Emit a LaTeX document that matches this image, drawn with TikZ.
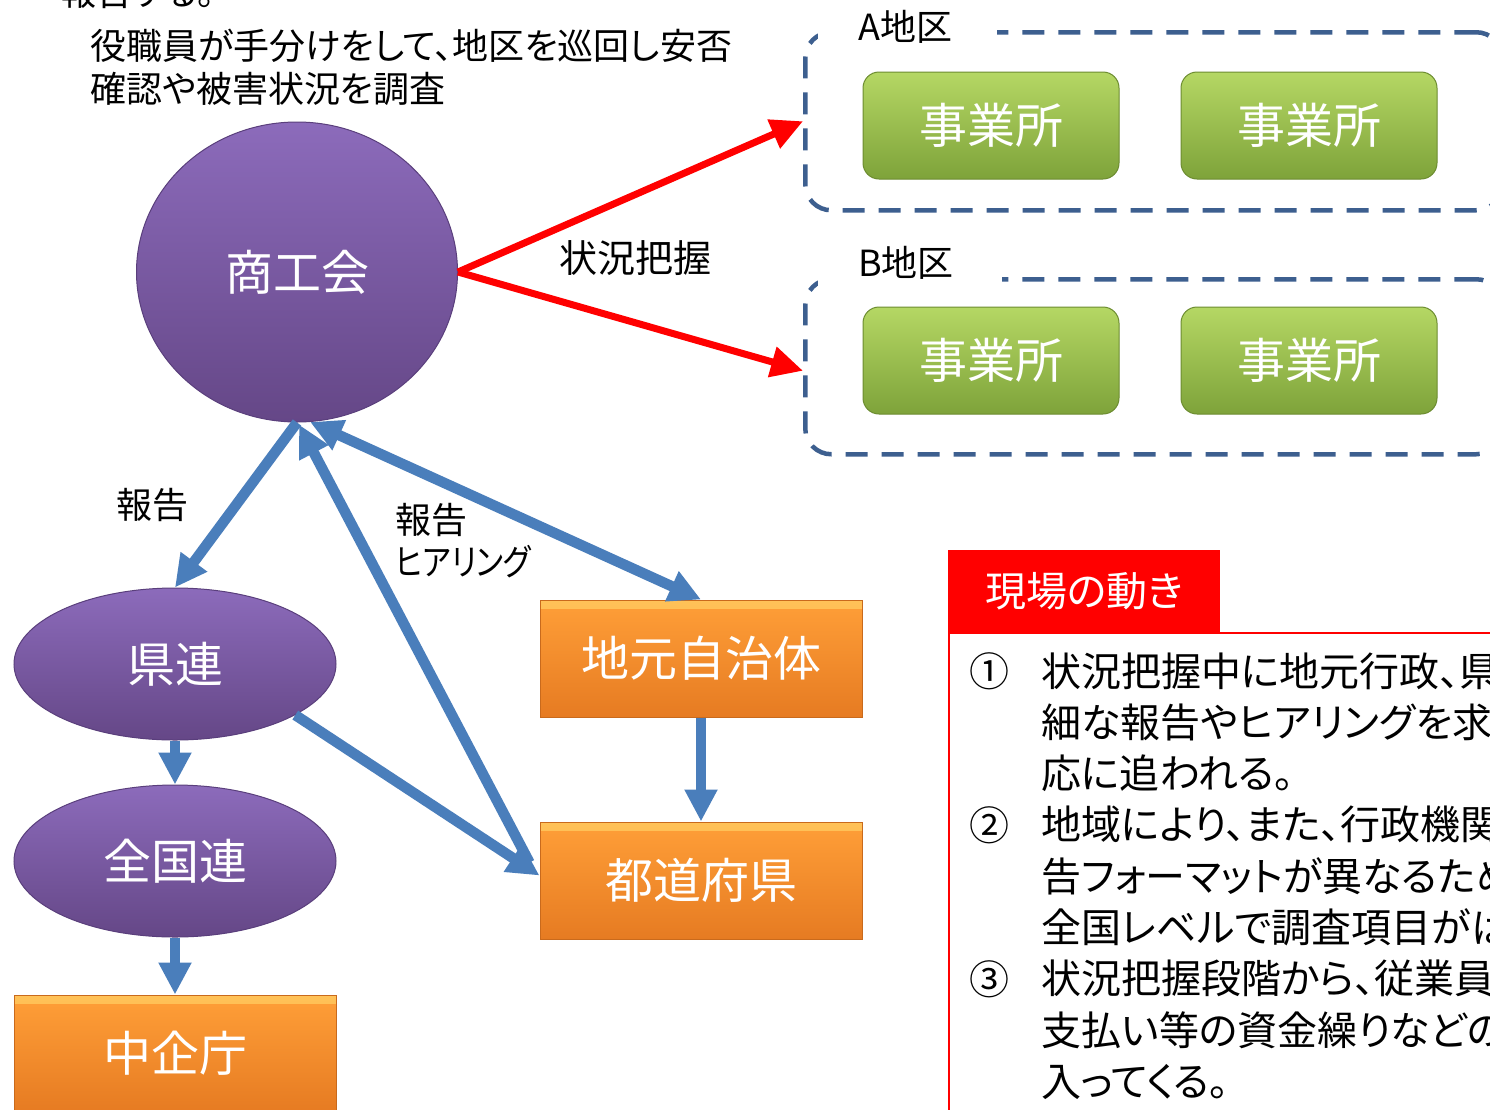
\documentclass[tikz,border=0pt]{standalone}
\usepackage{fontspec}
\setmainfont{Noto Sans CJK JP}[RawFeature=+palt]
\usetikzlibrary{arrows.meta,shapes.geometric,calc}
\definecolor{arrowblue}{HTML}{4A7EBB}
\definecolor{purptop}{HTML}{8C6BBB}
\definecolor{purpbot}{HTML}{654787}
\definecolor{purpedge}{HTML}{5A3F7C}
\definecolor{orngtop}{HTML}{FF9F38}
\definecolor{orngbot}{HTML}{E67B22}
\definecolor{orngedge}{HTML}{C96A1C}
\definecolor{ornghi}{HTML}{FFC258}
\definecolor{grntop}{HTML}{B5D764}
\definecolor{grnbot}{HTML}{7EA33A}
\definecolor{grnedge}{HTML}{6C8C30}
\definecolor{dashblue}{HTML}{3D5F8F}
\begin{document}
\begin{tikzpicture}[x=1pt,y=-1pt,
  lbl/.style={font=\fontsize{36}{44}\selectfont, inner sep=0pt, text=black},
  wtxt/.style={text=white, font=\fontsize{48}{56}\selectfont},
  purp/.style={ellipse, draw=purpedge, line width=1pt, top color=purptop, bottom color=purpbot, wtxt, inner sep=0pt},
  orng/.style={rectangle, draw=orngedge, line width=1pt, top color=orngtop, bottom color=orngbot, wtxt,
    minimum width=322pt, minimum height=117pt, inner sep=0pt,
    path picture={\shade[top color=ornghi, bottom color=orngtop]
      (path picture bounding box.north west) rectangle ([yshift=-8pt]path picture bounding box.north east);}},
  grn/.style={rectangle, rounded corners=16pt, draw=grnedge, line width=1pt, top color=grntop, bottom color=grnbot, wtxt,
    minimum width=256pt, minimum height=107pt, inner sep=0pt},
  dashbox/.style={rectangle, rounded corners=26pt, draw=dashblue, line width=4.5pt, dash pattern=on 22pt off 14pt, inner sep=0pt},
  redarrow/.style={draw=red, line width=7pt, -{Triangle[length=32pt,width=30pt]}},
  bluearrow/.style={draw=arrowblue, line width=10.5pt, -{Triangle[length=32pt,width=31pt]}},
  bluedouble/.style={draw=arrowblue, line width=10.5pt, {Triangle[length=32pt,width=31pt]}-{Triangle[length=32pt,width=31pt]}},
  boxtxt/.style={font=\fontsize{40}{51}\selectfont, inner sep=0pt, text=black, anchor=base west}
]
\useasboundingbox (0,0) rectangle (1490,1109);
\clip (0,0) rectangle (1490,1109);
\fill[white] (0,0) rectangle (1490,1109);

% top texts
\node[lbl, anchor=base west] (cut) at (60,5) {報告する。};
\node[lbl, anchor=base west] (intro1) at (90,59) {役職員が手分けをして、地区を巡回し安否};
\node[lbl, anchor=base west] (intro2) at (90,102) {確認や被害状況を調査};

% district boxes
\node[dashbox, minimum width=697pt, minimum height=178pt, anchor=north west] (boxA) at (803,30) {};
\fill[white] (818,8) rectangle (997,52);
\node[lbl, anchor=west] (labA) at (858,27) {A地区};
\node[dashbox, minimum width=697pt, minimum height=175pt, anchor=north west] (boxB) at (803,277) {};
\fill[white] (818,255) rectangle (1002,299);
\node[lbl, anchor=west] (labB) at (858,263) {B地区};

\node[grn] (jA1) at (991,125.5) {事業所};
\node[grn] (jA2) at (1309,125.5) {事業所};
\node[grn] (jB1) at (991,360.5) {事業所};
\node[grn] (jB2) at (1309,360.5) {事業所};

% main nodes
\node[purp, minimum width=321pt, minimum height=300pt] (shoko) at (297,272) {商工会};
\node[purp, minimum width=322pt, minimum height=152pt] (kenren) at (175,664) {県連};
\node[purp, minimum width=322pt, minimum height=152pt] (zenkoku) at (175,861) {全国連};
\node[orng] (chuki) at (175,1053.5) {中企庁};
\node[orng] (jimoto) at (701,658.5) {地元自治体};
\node[orng] (todo) at (701,880.5) {都道府県};

% red arrows
\draw[redarrow] (shoko.east) -- (boxA.west);
\draw[redarrow] (shoko.east) -- ($(boxB.west)+(0,4)$);
\node[lbl, font=\fontsize{38}{44}\selectfont] (jokyo) at (635,258) {状況把握};

% blue arrows
\draw[bluearrow] (shoko.south) -- (kenren.north);
\draw[bluearrow] ($(todo.west)+(-10,-18)$) -- ($(shoko.south)+(2,2)$);
\draw[bluedouble] (shoko.-85) -- (jimoto.north);
\draw[bluearrow] (kenren.-23) -- ($(todo.west)+(0,-5)$);
\draw[bluearrow] (kenren.south) -- (zenkoku.north);
\draw[bluearrow] (zenkoku.south) -- (chuki.north);
\draw[bluearrow] (jimoto.south) -- (todo.north);

\node[lbl] (hokoku1) at (152,505) {報告};
\node[lbl, anchor=west] (hokoku2) at (395,520) {報告};
\node[lbl, anchor=west] (hearing) at (395,562) {\scalebox{0.85}[1]{ヒアリング}};

% right panel
\node[draw=red, line width=2pt, minimum width=600pt, minimum height=520pt, anchor=north west, inner sep=0pt] (body) at (948,632) {};
\node[fill=red, minimum width=272pt, minimum height=82pt, anchor=north west, inner sep=0pt] (hdr) at (948,550) {};
\node[text=white, font=\fontsize{41}{48}\selectfont, inner sep=0pt] (hdrtxt) at (hdr.center) {現場の動き};

\node[boxtxt, anchor=base] (n1) at (989,686) {①};
\node[boxtxt, anchor=base] (n2) at (989,840) {②};
\node[boxtxt, anchor=base] (n3) at (989,994) {③};
\foreach \t [count=\i from 0] in {状況把握中に地元行政、県,細な報告やヒアリングを求め,応に追われる。,地域により、また、行政機関,告フォーマットが異なるため、,全国レベルで調査項目がば,状況把握段階から、従業員,支払い等の資金繰りなどの,入ってくる。}{
  \node[boxtxt] (line\i) at (1041,{686+51.3*\i}) {\t};
}
\end{tikzpicture}
\end{document}
